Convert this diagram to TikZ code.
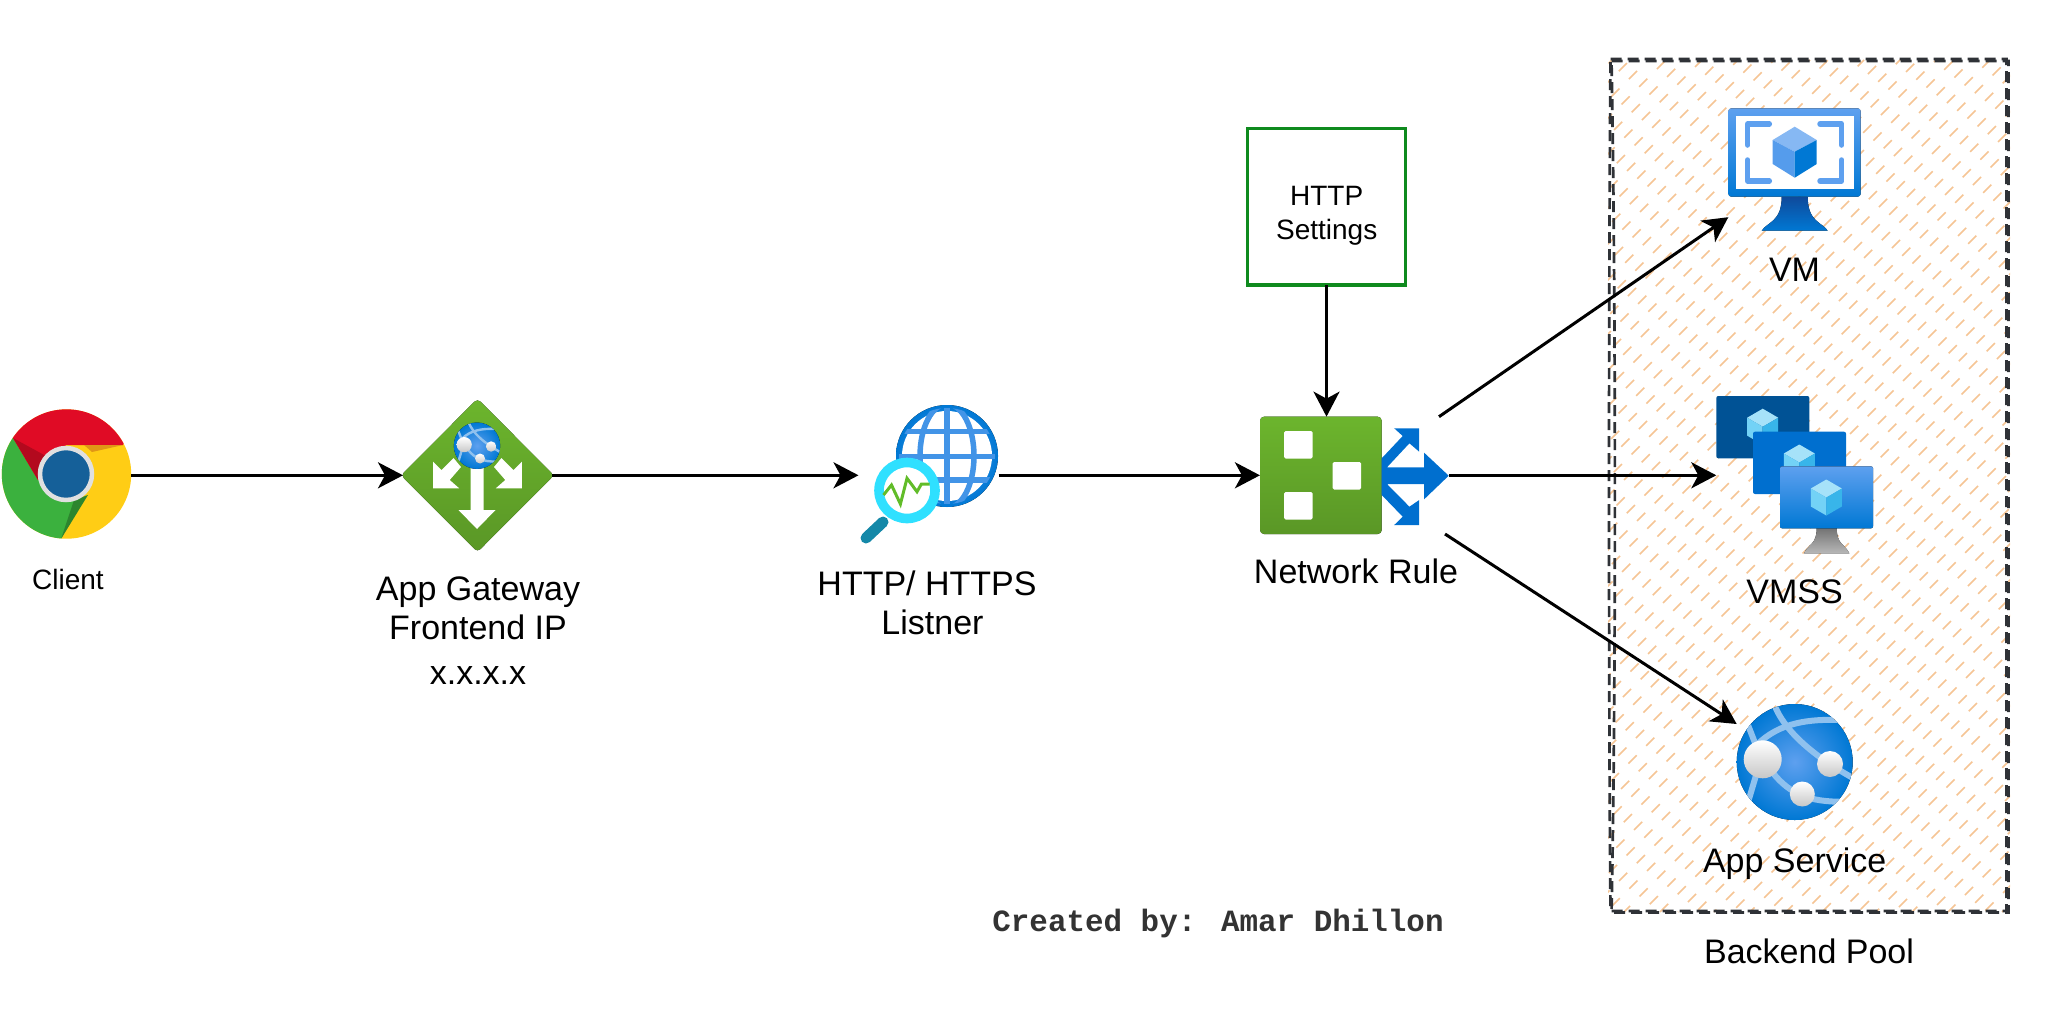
\documentclass[tikz,border=0pt]{standalone}
\usepackage{fontspec}
\usepackage{xcolor}
\setmainfont{Liberation Sans}
\newfontfamily\creditfont{Liberation Mono}
\usetikzlibrary{arrows.meta}

\definecolor{azure}{HTML}{0078D4}
\definecolor{azuresoft}{HTML}{5EA0EF}
\definecolor{azuredeep}{HTML}{0F4A9B}
\definecolor{azurenavy}{HTML}{005295}
\definecolor{azuremid}{HTML}{006FCF}
\definecolor{leaf}{HTML}{6CB52D}
\definecolor{leafdark}{HTML}{5A9726}
\definecolor{boxgreen}{HTML}{0F8A1E}
\definecolor{hatch}{HTML}{F5C595}
\definecolor{pooldark}{HTML}{2F3237}
\definecolor{band}{HTML}{8FC1EE}
\definecolor{lensring}{HTML}{2FE0FF}
\definecolor{lenshandle}{HTML}{1488A8}
\definecolor{chromered}{HTML}{E00B25}
\definecolor{chromegreen}{HTML}{3BB13E}
\definecolor{chromeyellow}{HTML}{FFCD15}
\definecolor{chromeblue}{HTML}{156099}

\tikzset{
  iconbox/.style 2 args={inner sep=0pt,outer sep=0pt,minimum width=#1pt,minimum height=#2pt},
  flowline/.style={line width=3pt,-{Stealth[length=25pt,width=26pt,inset=7pt]}},
  plainlabel/.style={align=center,font=\fontsize{34}{39}\selectfont},
  pooledge/.style={pooldark,line width=2.7pt,dash pattern=on 11pt off 6pt},
  pixelframe/.style={azuresoft,line width=5.5pt,line cap=round,line join=round},
}

% globe with three white balls
\newcommand{\webglobe}[3]{
\begin{scope}[shift={(#1,#2)},scale=#3]
\fill[inner color=azuresoft,outer color=azure] (0,0) circle (58);
\begin{scope}
\clip (0,0) circle (58);
\draw[band,line width=#3*6pt] (-20.7,-58) .. controls (-10,-30) and (20,-5) .. (60,17);
\draw[band,line width=#3*6pt] (-38,-17) .. controls (-15,-40) and (15,-43) .. (45,-42);
\draw[band,line width=#3*6pt] (-46.7,-37) -- (-39.7,-19);
\draw[band,line width=#3*6pt] (-38,11) -- (-48,44.7);
\draw[band,line width=#3*6pt] (-21.7,11) .. controls (-5,32) and (15,40) .. (48,39.7);
\end{scope}
\shade[top color=white,bottom color=white!78!black] (-32,-2.7) circle (19);
\shade[top color=white,bottom color=white!78!black] (35.3,2) circle (13);
\shade[top color=white,bottom color=white!78!black] (7.6,32) circle (12.5);
\end{scope}
}

% small cube of the scale set
\newcommand{\minicube}[2]{
\begin{scope}[shift={(#1,#2)}]
\fill[white!65!cyan] (0,-18) -- (15.5,-9) -- (0,0) -- (-15.5,-9) -- cycle;
\fill[white!45!cyan] (-15.5,-9) -- (0,0) -- (0,18) -- (-15.5,9) -- cycle;
\fill[cyan!85!azure!80!white] (15.5,-9) -- (0,0) -- (0,18) -- (15.5,9) -- cycle;
\end{scope}
}

\begin{document}
\begin{tikzpicture}[x=1pt,y=-1pt]
\useasboundingbox (0,0) rectangle (2049,1018);

% backend pool hatching
\begin{scope}
\clip (1608,58) rectangle (2010,914);
\foreach \k [evaluate=\k as \ph using {mod(\k*11,25)}, evaluate=\k as \c using {1672+18*\k}] in {0,...,70}
  \draw[hatch,line width=1.7pt,dash pattern=on 11.5pt off 13.5pt,dash phase=\ph pt] (\c-912,912) -- (\c-60,60);
\end{scope}
\draw[pooledge] (1610.5,59) -- (2006.5,59) -- (2006.5,911) -- (1610.5,911) .. controls (1608.5,700) and (1608.5,300) .. cycle;
\draw[pooledge] (1611.5,61) -- (2008.5,61) -- (2008.5,912.5) -- (1611.5,912.5) .. controls (1616,700) and (1616,300) .. cycle;

% nodes
\node[iconbox={129}{131}] (client) at (66.5,475.3) {};
\node[iconbox={149}{149}] (gateway) at (477.5,475.3) {};
\node[iconbox={140}{140}] (listener) at (928.5,475.3) {};
\node[iconbox={121.7}{117.3}] (rule) at (1320.8,475.3) {};
\node[iconbox={67.6}{97}] (ruleout) at (1415.4,475.3) {};
\node[iconbox={132.4}{122.4}] (vm) at (1794.5,169.5) {};
\node[iconbox={156.7}{157}] (vmss) at (1794.65,475.3) {};
\node[iconbox={116}{116}] (appsvc) at (1794.7,762) {};
\node[draw=boxgreen,line width=3.2pt,iconbox={157.3}{156.7}] (settings) at (1326.5,206.7) {};
\coordinate (ruleup) at (1439,416.7);
\coordinate (ruledown) at (1445,534);

% chrome
\begin{scope}
\clip (66.5,474) circle (64.7);
\fill[chromeyellow] (0,400) rectangle (140,550);
\fill[chromegreen] (13,438) -- (38,480) -- (66,474) -- (82,497) -- (61,539) -- (0,560) -- (0,430) -- cycle;
\fill[chromered] (13,438) -- (0,400) -- (140,400) -- (123,445) -- (66,445) -- (38,480) -- cycle;
\fill[chromered!80!black] (13,438) -- (38,480) -- (46,456) -- cycle;
\fill[chromeyellow!80!chromered!90!black] (123,445) -- (84,445) -- (92,452) -- cycle;
\fill[chromegreen!75!black] (61,539) -- (88,495) -- (74,500) -- cycle;
\end{scope}
\filldraw[fill=chromeblue,draw=white!88!black,line width=4.5pt] (66,474) circle (26);

% gateway
\fill[top color=leaf,bottom color=leafdark,rounded corners=4pt] (477.5,398.7) -- (554,475.3) -- (477.5,552) -- (401,475.3) -- cycle;
\fill[white] (470.5,465) -- (483.5,465) -- (483.5,510) -- (495.5,510) -- (477,529) -- (458.5,510) -- (470.5,510) -- cycle;
\fill[white] (433.2,461.7) -- (441.5,470) -- (453.5,458) -- (461,467) -- (449.7,480) -- (459.2,488.3) -- (433.2,488.3) -- cycle;
\fill[white] (521.8,461.7) -- (513.5,470) -- (501.5,458) -- (494,467) -- (505.3,480) -- (495.8,488.3) -- (521.8,488.3) -- cycle;
\webglobe{477}{445.7}{0.4}

% listener
\fill[inner color=azuresoft,outer color=azure] (947,456) circle (51);
\fill[white] (947,456) circle (45);
\begin{scope}
\clip (947,456) circle (48);
\draw[azuresoft!70!azure,line width=5.5pt] (890,431.7) -- (1004,431.7) (890,456.7) -- (1004,456.7) (890,480) -- (1004,480) (947,400) -- (947,510);
\draw[azuresoft!70!azure,line width=5.5pt] (947,456) ellipse (27 and 52);
\end{scope}
\draw[lenshandle,line width=11pt,line cap=round] (883,522) -- (866,538);
\filldraw[fill=white,draw=lensring,line width=9.6pt] (907,490.5) circle (28);
\draw[leaf!90!green,line width=3pt,line join=miter] (883.5,495) -- (891.5,485) -- (900.4,504) -- (907,478.3) -- (917,491.7) -- (921.4,484) -- (929.5,484);

% network rule
\fill[top color=leaf,bottom color=leafdark,rounded corners=4pt] (1260,416.7) rectangle (1381.7,534);
\foreach \xa/\ya in {1284/431,1332.6/462,1284/492}
  \fill[white,rounded corners=1.5pt] (\xa,\ya) rectangle ++(28.5,27.5);
\fill[azuremid] (1419.2,428.3) -- (1419.2,451.7) -- (1409.4,443.3) -- (1387,467.3) -- (1424.1,467.3) -- (1424.1,452.7) -- (1448.7,475.7) -- (1424.1,499.3) -- (1424.1,484) -- (1387,484) -- (1409.4,506.7) -- (1419.2,500) -- (1419.2,525) -- (1394.2,525) -- (1402.7,516.7) -- (1381.7,495) -- (1381.7,458.3) -- (1402.7,436) -- (1394.2,428.3) -- cycle;

% vm
\fill[top color=azuredeep,bottom color=azure] (1781.7,196.7) -- (1807.7,196.7) .. controls (1807.7,222) and (1822,222) .. (1827.7,230.7) -- (1761.7,230.7) .. controls (1767,222) and (1781.7,222) .. cycle;
\fill[top color=azuresoft,bottom color=azure,rounded corners=3pt] (1728.3,108.3) rectangle (1860.7,196.7);
\fill[white] (1736,116) rectangle (1854,189);
\draw[pixelframe] (1769.3,124) -- (1747.7,124) -- (1747.7,145);
\draw[pixelframe] (1820,124) -- (1841.7,124) -- (1841.7,145);
\draw[pixelframe] (1769.3,181) -- (1747.7,181) -- (1747.7,160);
\draw[pixelframe] (1820,181) -- (1841.7,181) -- (1841.7,160);
\fill[azuresoft!75!white] (1794.7,126.7) -- (1816.7,140) -- (1794.7,151.7) -- (1772.7,140) -- cycle;
\fill[azuresoft!90!azure] (1772.7,140) -- (1794.7,151.7) -- (1794.7,177.7) -- (1772.7,164) -- cycle;
\fill[azure] (1816.7,140) -- (1794.7,151.7) -- (1794.7,177.7) -- (1816.7,164) -- cycle;

% vmss
\fill[azurenavy,rounded corners=2pt] (1716.3,396) rectangle (1809.3,458.3);
\minicube{1762.7}{426.7}
\fill[azuremid,rounded corners=2pt] (1753,431.7) rectangle (1846,494);
\minicube{1799.3}{462.5}
\fill[top color=white!45!black,bottom color=white!72!black] (1816.7,528) -- (1836.7,528) .. controls (1836.7,545) and (1845,544) .. (1849.3,553.3) -- (1804,553.3) .. controls (1808,544) and (1816.7,545) .. cycle;
\fill[top color=azuresoft,bottom color=azure,rounded corners=2pt] (1780,466.3) rectangle (1873,528.3);
\minicube{1826.3}{497.5}

% app service
\webglobe{1794.7}{762}{1}

% labels
\node[font=\fontsize{28}{32}\selectfont] (clientlabel) at (68,579) {Client};
\node[plainlabel] (gatewaylabel) at (478,631) {App Gateway\\Frontend IP\\[6pt]x.x.x.x};
\node[plainlabel] (listenerlabel) at (927,603) {HTTP/ HTTPS\\\hspace*{11pt}Listner};
\node[align=center,font=\fontsize{28}{34}\selectfont] (settingslabel) at (1326.7,216) {HTTP\\Settings};
\node[plainlabel] (rulelabel) at (1356,571.7) {Network Rule};
\node[plainlabel] (vmlabel) at (1794.5,270) {VM};
\node[plainlabel] (vmsslabel) at (1794.5,591.7) {VMSS};
\node[plainlabel] (appsvclabel) at (1794.7,863.5) {App Service};
\node[plainlabel] (poollabel) at (1809,951.7) {Backend Pool};
\node[font=\creditfont\bfseries\fontsize{30.9}{36}\selectfont,text=black!80] (credit) at (1218,923) {Created by: Amar Dhillon};

% connectors
\draw[flowline] (client.east) -- (gateway.west);
\draw[flowline] (gateway.east) -- (listener.west);
\draw[flowline] (listener.east) -- (rule.west);
\draw[flowline] (settings.south) -- (settings.south |- rule.north);
\draw[flowline] (ruleup) -- ([yshift=13.5pt]vm.south west);
\draw[flowline] (ruleout.east) -- (vmss.west);
\draw[flowline] (ruledown) -- ([yshift=-20pt]appsvc.north west);
\end{tikzpicture}
\end{document}
